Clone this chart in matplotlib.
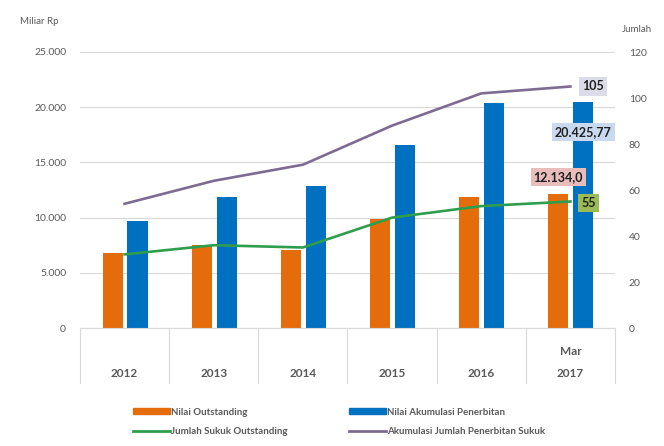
import matplotlib
matplotlib.use("Agg")
import matplotlib.pyplot as plt
import numpy as np
from matplotlib.patches import Patch
from matplotlib.lines import Line2D
import matplotlib.transforms as mtrans

plt.rcParams['font.family'] = ['Lato', 'DejaVu Sans']

years = ["2012", "2013", "2014", "2015", "2016", "Mar\n2017"]
nilai_outstanding = [6800, 7500, 7050, 9850, 11850, 12134.0]
nilai_akumulasi = [9700, 11900, 12850, 16600, 20400, 20425.77]
jumlah_outstanding = [32, 36, 35, 48, 53, 55]
akumulasi_jumlah = [54, 64, 71, 88, 102, 105]
left_ticks = [0, 5000, 10000, 15000, 20000, 25000]
left_ticklabels = ["0", "5.000", "10.000", "15.000", "20.000", "25.000"]
right_ticks = [0, 20, 40, 60, 80, 100, 120]

ORANGE = "#E46C0A"
BLUE = "#0070C0"
GREEN = "#2E9E4E"
PURPLE = "#7D6B92"
GRAY = "#595959"

fig = plt.figure(figsize=(6.64, 4.46), dpi=100)
ax = fig.add_axes([80/664, 1-328/446, 535/664, 276/446])
ax2 = ax.twinx()

x = np.arange(len(years))
w = 0.225
ax.bar(x - 0.135, nilai_outstanding, width=w, color=ORANGE, zorder=2)
ax.bar(x + 0.145, nilai_akumulasi, width=w, color=BLUE, zorder=2)
ax.set_ylim(0, 25000)
ax.set_xlim(-0.5, len(years) - 0.5)
ax.set_yticks(left_ticks)
ax.set_yticklabels(left_ticklabels)
ax.grid(axis='y', color="#D9D9D9", linewidth=0.8, zorder=0)
ax.set_axisbelow(True)
for s in ['top', 'right', 'left']:
    ax.spines[s].set_visible(False)
ax.spines['bottom'].set_color("#D9D9D9")
ax.tick_params(axis='y', length=0, labelsize=7.5, labelcolor=GRAY, pad=10)
ax.set_xticks([])

ax2.plot(x, jumlah_outstanding, color=GREEN, linewidth=1.9, zorder=3)
ax2.plot(x, akumulasi_jumlah, color=PURPLE, linewidth=1.9, zorder=3)
ax2.set_ylim(0, 120)
ax2.set_yticks(right_ticks)
ax2.tick_params(axis='y', length=0, labelsize=7.5, labelcolor=GRAY, pad=10)
for s in ['top', 'right', 'left', 'bottom']:
    ax2.spines[s].set_visible(False)

# category separators and labels
trans = mtrans.blended_transform_factory(ax.transData, ax.transAxes)
for b in np.arange(-0.5, len(years), 1.0):
    ax.plot([b, b], [0, -55/276], color="#D9D9D9", linewidth=0.8,
            transform=trans, clip_on=False)
for xi, lab in zip(x, years):
    ax.text(xi, -49/276, lab, transform=trans, ha='center', va='baseline',
            fontsize=8.5, fontweight='bold', color=GRAY, linespacing=2.2)

# axis titles
fig.text(20/664, 1-22/446, "Miliar Rp", fontsize=7, color=GRAY, va='center', ha='left')
fig.text(652/664, 1-30/446, "Jumlah", fontsize=7, color=GRAY, va='center', ha='right')

# data labels
lbl = dict(fontsize=9, fontweight='bold', color="#1F1F1F", ha='center', va='center',
           textcoords='offset points', zorder=5)
last = len(years) - 1
ax2.annotate("105", (x[last], akumulasi_jumlah[last]), xytext=(16, 0),
             bbox=dict(boxstyle='square,pad=0.25', fc="#DCDCE8", ec='none'), **lbl)
ax2.annotate("55", (x[last], jumlah_outstanding[last]), xytext=(13, -1),
             bbox=dict(boxstyle='square,pad=0.25', fc="#9BBB59", ec='none'), **lbl)
ax2.annotate("20.425,77", (x[last] + 0.145, nilai_akumulasi[last] * 120 / 25000),
             xytext=(0, -21),
             bbox=dict(boxstyle='square,pad=0.25', fc="#C9DAF0", ec='none'), **lbl)
ax2.annotate("12.134,0", (x[last] - 0.135, nilai_outstanding[last] * 120 / 25000),
             xytext=(0, 12),
             bbox=dict(boxstyle='square,pad=0.25', fc="#E8BDBB", ec='none'), **lbl)

# legend (column-wise fill: col1 = orange, green; col2 = blue, purple)
handles = [Patch(color=ORANGE), Line2D([], [], color=GREEN, linewidth=2),
           Patch(color=BLUE), Line2D([], [], color=PURPLE, linewidth=2)]
labels = ["Nilai Outstanding", "Jumlah Sukuk Outstanding",
          "Nilai Akumulasi Penerbitan", "Akumulasi Jumlah Penerbitan Sukuk"]
leg = fig.legend(handles, labels, ncol=2, loc='center left',
                 bbox_to_anchor=(124/664, 1-422/446), frameon=False,
                 prop=dict(size=7, weight='bold'), labelcolor=GRAY,
                 handlelength=3.8, handleheight=0.6, handletextpad=0.15,
                 columnspacing=6.3, labelspacing=1.1)

fig.savefig("out.png", dpi=100, facecolor='white')
